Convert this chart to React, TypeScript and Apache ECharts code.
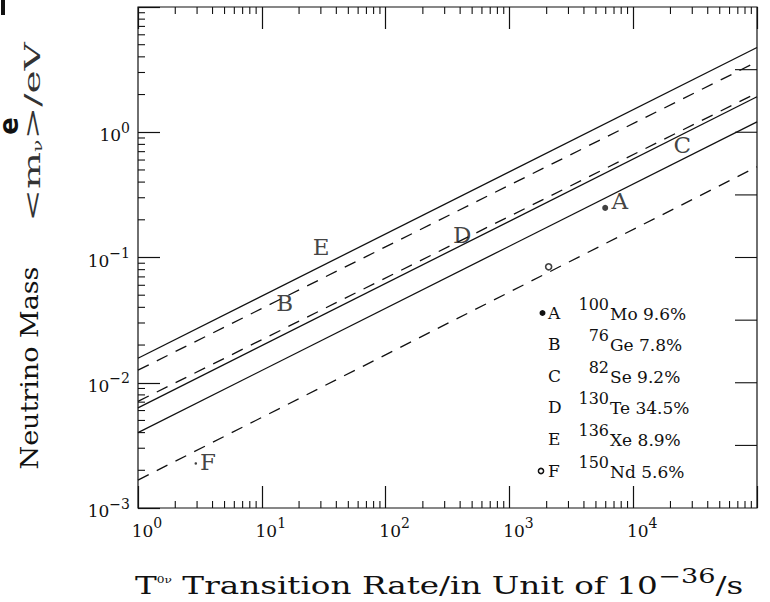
import React, { useEffect, useRef } from 'react';
import * as echarts from 'echarts';

// ---------- data ----------
const xMin = 1;
const xMax = 1e5;
const yMin = 1e-3;
const yMax = 10;

const xTickExps = ['0', '1', '2', '3', '4'];          // labels for 10^0 .. 10^4
const yTickExps = ['−3', '−2', '−1', '0'];            // labels for 10^-3 .. 10^0

// six bands, value of <m> at T = 1 and at T = 1e5
const lineNames = ['E', 'B', 'D', 'C', 'A', 'F'];
const lineStart = [0.0157, 0.0126, 0.0071, 0.0063, 0.004, 0.00167];
const lineEnd = [4.75, 3.65, 2.06, 1.92, 1.21, 0.53];
const lineDashed = [false, true, true, false, false, true];

// measured points
const pointA = [5940, 0.249];
const pointF = [2075, 0.0843];
const pointFSmall = [2.93, 0.00227];

// curve letters
const curveLabels = ['E', 'B', 'D', 'C', 'A', 'F'];
const curveLabelX = [30.1, 15.3, 416, 24900, 7810, 3.68];
const curveLabelY = [0.1216, 0.043, 0.151, 0.79, 0.282, 0.00234];

// legend
const legendLetters = ['A', 'B', 'C', 'D', 'E', 'F'];
const legendMass = ['100', '76', '82', '130', '136', '150'];
const legendElem = ['Mo', 'Ge', 'Se', 'Te', 'Xe', 'Nd'];
const legendAbund = ['9.6%', '7.8%', '9.2%', '34.5%', '8.9%', '5.6%'];

// tick structure
const minorMult = [2, 3, 4, 5, 6, 7, 8, 9];
const xDecades = [1, 10, 100, 1000, 10000];
const yDecades = [0.001, 0.01, 0.1, 1];
const rightTicks = [0.00316, 0.01, 0.0316, 0.1, 0.316, 1, 3.16];

// ---------- styling ----------
const serif = "'DejaVu Serif', serif";
const ink = '#111';
const W = 770;

const expOf = (v: number) => Math.round(Math.log10(v));

const tok = (size: number, extra: any = {}, color = ink) => ({
  fontFamily: serif,
  fontSize: size,
  fontWeight: 'normal',
  fill: color,
  color,
  verticalAlign: 'bottom',
  ...extra,
});

function buildOption() {
  const tickData: number[][] = [];
  xDecades.forEach((d) => minorMult.forEach((m) => tickData.push([d * m, yMin, 0])));
  yDecades.forEach((d) => minorMult.forEach((m) => tickData.push([xMin, d * m, 1])));
  rightTicks.forEach((v) => tickData.push([xMax, v, 2]));

  const lineSeries = lineNames.map((n, i) => ({
    type: 'line',
    name: n,
    data: [
      [xMin, lineStart[i]],
      [xMax, lineEnd[i]],
    ],
    symbol: 'none',
    silent: true,
    lineStyle: {
      color: ink,
      width: 1.3,
      type: lineDashed[i] ? [12, 9] : 'solid',
    },
    z: 3,
  }));

  // legend rows as title components (label-style text)
  const titles: any[] = [];
  legendLetters.forEach((l, i) => {
    const y = 313 + 31.6 * i;
    const ts = (size: number) => ({ fontFamily: serif, fontSize: size, fontWeight: 'normal', color: ink, lineHeight: size + 2 });
    titles.push({ text: l, left: 548, top: y - 10, padding: 0, textStyle: ts(17) });
    titles.push({ text: legendMass[i], right: W - 609, top: y - 18, padding: 0, textStyle: ts(16) });
    titles.push({ text: legendElem[i] + ' ' + legendAbund[i], left: 610, top: y - 9, padding: 0, textStyle: ts(17) });
  });

  const axisTickStyle = { inside: true, length: 22, lineStyle: { color: ink, width: 1.2 } };

  const xLabelRich = {
    b: { fontSize: 17, fontFamily: serif, color: ink, padding: [0, 0, 0, 18], verticalAlign: 'bottom' },
    s: { fontSize: 14, fontFamily: serif, color: ink, padding: [0, 0, 9, 0], verticalAlign: 'bottom' },
  };
  const yLabelRich = {
    b: { fontSize: 17, fontFamily: serif, color: ink, verticalAlign: 'bottom' },
    s: { fontSize: 14, fontFamily: serif, color: ink, padding: [0, 0, 9, 0], verticalAlign: 'bottom' },
  };

  return {
    animation: false,
    backgroundColor: '#fff',
    textStyle: { fontFamily: serif, color: ink },
    title: titles,
    grid: {
      left: 138,
      right: 13,
      top: 7,
      bottom: 94,
      show: true,
      borderColor: ink,
      borderWidth: 1.2,
    },
    xAxis: [
      {
        type: 'log',
        logBase: 10,
        min: xMin,
        max: xMax,
        position: 'bottom',
        axisLine: { show: false },
        splitLine: { show: false },
        axisTick: axisTickStyle,
        axisLabel: {
          margin: 8,
          showMinLabel: true,
          showMaxLabel: true,
          formatter: (v: number) => {
            const e = xTickExps[expOf(v)];
            return e === undefined ? '' : `{b|10}{s|${e}}`;
          },
          rich: xLabelRich,
        },
      },
      {
        type: 'log',
        logBase: 10,
        min: xMin,
        max: xMax,
        position: 'top',
        axisLine: { show: false },
        splitLine: { show: false },
        axisTick: axisTickStyle,
        axisLabel: { show: false },
      },
    ],
    yAxis: [
      {
        type: 'log',
        logBase: 10,
        min: yMin,
        max: yMax,
        position: 'left',
        axisLine: { show: false },
        splitLine: { show: false },
        axisTick: axisTickStyle,
        axisLabel: {
          margin: 8,
          showMinLabel: true,
          formatter: (v: number) => {
            const e = yTickExps[expOf(v) + 3];
            return e === undefined ? '' : `{b|10}{s|${e}}`;
          },
          rich: yLabelRich,
        },
      },
    ],
    series: [
      ...lineSeries,
      {
        type: 'custom',
        silent: true,
        data: tickData,
        renderItem: (params: any, api: any) => {
          const p = api.coord([api.value(0), api.value(1)]);
          const kind = api.value(2);
          const style = { stroke: ink, lineWidth: 1.1 };
          if (kind === 0) {
            const top = api.coord([api.value(0), yMax]);
            return {
              type: 'group',
              children: [
                { type: 'line', shape: { x1: p[0], y1: p[1], x2: p[0], y2: p[1] - 7 }, style },
                { type: 'line', shape: { x1: top[0], y1: top[1], x2: top[0], y2: top[1] + 7 }, style },
              ],
            };
          }
          if (kind === 1) {
            return { type: 'line', shape: { x1: p[0], y1: p[1], x2: p[0] + 7, y2: p[1] }, style };
          }
          return { type: 'line', shape: { x1: p[0], y1: p[1], x2: p[0] - 22, y2: p[1] }, style };
        },
        z: 4,
      },
      {
        type: 'scatter',
        silent: true,
        data: [pointA],
        symbol: 'circle',
        symbolSize: 6,
        itemStyle: { color: ink },
        z: 5,
      },
      {
        type: 'scatter',
        silent: true,
        data: [pointF],
        symbol: 'circle',
        symbolSize: 6,
        itemStyle: { color: '#fff', borderColor: ink, borderWidth: 1.6 },
        z: 5,
      },
      {
        type: 'scatter',
        silent: true,
        data: [pointFSmall],
        symbol: 'circle',
        symbolSize: 2.5,
        itemStyle: { color: ink },
        z: 5,
      },
      {
        type: 'scatter',
        silent: true,
        data: curveLabels.map((l, i) => [curveLabelX[i], curveLabelY[i], l]),
        symbolSize: 0,
        label: {
          show: true,
          position: 'inside',
          formatter: (p: any) => p.data[2],
          fontSize: 23,
          fontFamily: serif,
          color: ink,
        },
        z: 6,
      },
    ],
    graphic: [
      { type: 'rect', shape: { x: 1, y: 0, width: 4, height: 15 }, style: { fill: ink } },
      {
        type: 'text',
        x: 9,
        y: 126,
        rotation: Math.PI / 2,
        style: {
          text: 'e',
          fontFamily: "'DejaVu Sans', sans-serif",
          fontSize: 26,
          fontWeight: 'bold',
          fill: ink,
          align: 'center',
          verticalAlign: 'middle',
        },
      },
      {
        type: 'text',
        x: 29,
        y: 368,
        rotation: Math.PI / 2,
        scaleX: 1.08,
        style: {
          text: '{a|Neutrino Mass}',
          fontFamily: serif,
          fontSize: 25,
          fill: ink,
          align: 'center',
          verticalAlign: 'middle',
          rich: { a: tok(25) },
        },
      },
      {
        type: 'text',
        x: 32,
        y: 132,
        rotation: Math.PI / 2,
        scaleX: 1.7,
        style: {
          text: '{a|<m}{b|ν}{a|>/eV}',
          fontFamily: serif,
          fontSize: 23,
          fill: '#333',
          align: 'center',
          verticalAlign: 'middle',
          rich: {
            a: tok(23, {}, '#333'),
            b: tok(12, { padding: [6, 0, 0, 0] }, '#333'),
          },
        },
      },
      {
        type: 'text',
        x: 135,
        y: 582,
        scaleX: 1.36,
        style: {
          text: '{t|T}{v|0ν} {m|Transition Rate/in Unit of 10}{s|−36}{m|/s}',
          fontFamily: serif,
          fontSize: 24,
          fill: ink,
          align: 'left',
          verticalAlign: 'middle',
          rich: {
            t: tok(24),
            v: tok(9, { padding: [0, 0, 13, 0] }),
            m: tok(24),
            s: tok(20, { padding: [0, 0, 11, 0] }),
          },
        },
      },
      {
        type: 'circle',
        shape: { cx: 542.5, cy: 313, r: 3 },
        style: { fill: ink },
      },
      {
        type: 'circle',
        shape: { cx: 541, cy: 313 + 31.6 * 5, r: 2.6 },
        style: { fill: '#fff', stroke: ink, lineWidth: 1.5 },
      },
    ],
  };
}

export default function App() {
  const ref = useRef<HTMLDivElement>(null);
  useEffect(() => {
    if (!ref.current) return;
    const chart = echarts.init(ref.current, null, { renderer: 'svg' });
    chart.setOption(buildOption() as any);
    return () => chart.dispose();
  }, []);
  return (
    <div
      ref={ref}
      style={{ position: 'absolute', left: 0, top: 0, width: 770, height: 602, background: '#fff' }}
    />
  );
}
